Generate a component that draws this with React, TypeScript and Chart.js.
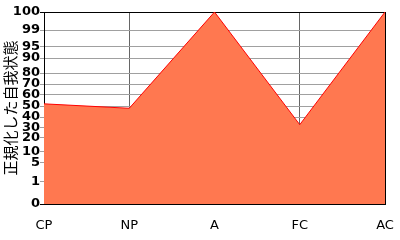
import React, { useEffect, useRef } from 'react';
import { Chart, registerables, LinearScale } from 'chart.js';

const categories = ['CP', 'NP', 'A', 'FC', 'AC'];
const egoValues = [52, 48, 100, 33, 100];
const yTickValues = [0, 1, 5, 10, 20, 30, 40, 50, 60, 70, 80, 90, 95, 99, 100];
// where each tick value sits along the (non-linear) percentile axis, 0 = bottom, 1 = top
const yTickFractions = [0, 0.115, 0.214, 0.271, 0.344, 0.396, 0.453, 0.51, 0.568, 0.625, 0.682, 0.76, 0.818, 0.906, 1];
const yTitle = '正規化した自我状態';

function valueToFraction(v: number): number {
  if (v <= yTickValues[0]) return yTickFractions[0];
  for (let i = 0; i < yTickValues.length - 1; i++) {
    const a = yTickValues[i], b = yTickValues[i + 1];
    if (v <= b) {
      const t = (v - a) / (b - a);
      return yTickFractions[i] + t * (yTickFractions[i + 1] - yTickFractions[i]);
    }
  }
  return yTickFractions[yTickFractions.length - 1];
}

function fractionToValue(f: number): number {
  if (f <= yTickFractions[0]) return yTickValues[0];
  for (let i = 0; i < yTickFractions.length - 1; i++) {
    const a = yTickFractions[i], b = yTickFractions[i + 1];
    if (f <= b) {
      const t = (f - a) / (b - a);
      return yTickValues[i] + t * (yTickValues[i + 1] - yTickValues[i]);
    }
  }
  return yTickValues[yTickValues.length - 1];
}

class EgogramScale extends LinearScale {
  static id = 'egogram';
  static defaults = { ticks: { callback: (v: number) => String(v) } };
  buildTicks() {
    return yTickValues.map((value) => ({ value }));
  }
  getPixelForValue(value: number) {
    return this.getPixelForDecimal(valueToFraction(value));
  }
  getValueForPixel(pixel: number) {
    return fractionToValue(this.getDecimalForPixel(pixel));
  }
}

Chart.register(...registerables, EgogramScale as any);

export default function App() {
  const ref = useRef<HTMLCanvasElement>(null);
  useEffect(() => {
    document.body.style.margin = '0';
    const chart = new Chart(ref.current!, {
      type: 'line',
      data: {
        labels: categories,
        datasets: [
          {
            data: egoValues,
            fill: 'origin',
            backgroundColor: '#FF7850',
            borderColor: '#FF0000',
            borderWidth: 1,
            pointRadius: 0,
            tension: 0,
          },
        ],
      },
      options: {
        animation: false,
        responsive: false,
        events: [],
        layout: { padding: { top: 12, right: 15, left: 0, bottom: 0 } },
        plugins: { legend: { display: false }, tooltip: { enabled: false } },
        scales: {
          x: {
            type: 'category',
            offset: false,
            z: 1,
            grid: {
              drawTicks: false,
              color: (ctx: any) => (ctx.index === categories.length - 1 ? '#000000' : '#666666'),
            },
            border: { display: true, color: '#000000', width: 1 },
            ticks: {
              color: '#000000',
              font: { family: '"DejaVu Sans"', size: 13 },
              padding: 14,
              maxRotation: 0,
              autoSkip: false,
            },
            afterFit: (s: any) => {
              s.height = 36;
              s.paddingLeft = 0;
              s.paddingRight = 0;
            },
          },
          y: {
            type: 'egogram' as any,
            min: 0,
            max: 100,
            z: 1,
            grid: {
              drawTicks: true,
              tickLength: 4,
              color: (ctx: any) =>
                ctx.tick && (ctx.tick.value === 100 || ctx.tick.value === 0) ? '#000000' : '#a0a0a0',
            },
            border: { display: true, color: '#000000', width: 1 },
            ticks: {
              color: '#000000',
              font: { family: '"DejaVu Sans"', size: 13, weight: 'bold' },
              padding: 0,
              autoSkip: false,
              callback: (v: any) => String(v),
            },
            title: {
              display: true,
              text: yTitle,
              color: '#000000',
              font: { family: '"Noto Sans CJK JP"', size: 15 },
              padding: { top: 1, bottom: 0 },
            },
            afterFit: (s: any) => {
              s.width = 44;
              s.paddingTop = 0;
              s.paddingBottom = 0;
            },
          },
        },
      },
    } as any);
    return () => chart.destroy();
  }, []);
  return (
    <div style={{ width: 400, height: 240 }}>
      <canvas ref={ref} width={400} height={240} style={{ display: 'block' }} />
    </div>
  );
}
